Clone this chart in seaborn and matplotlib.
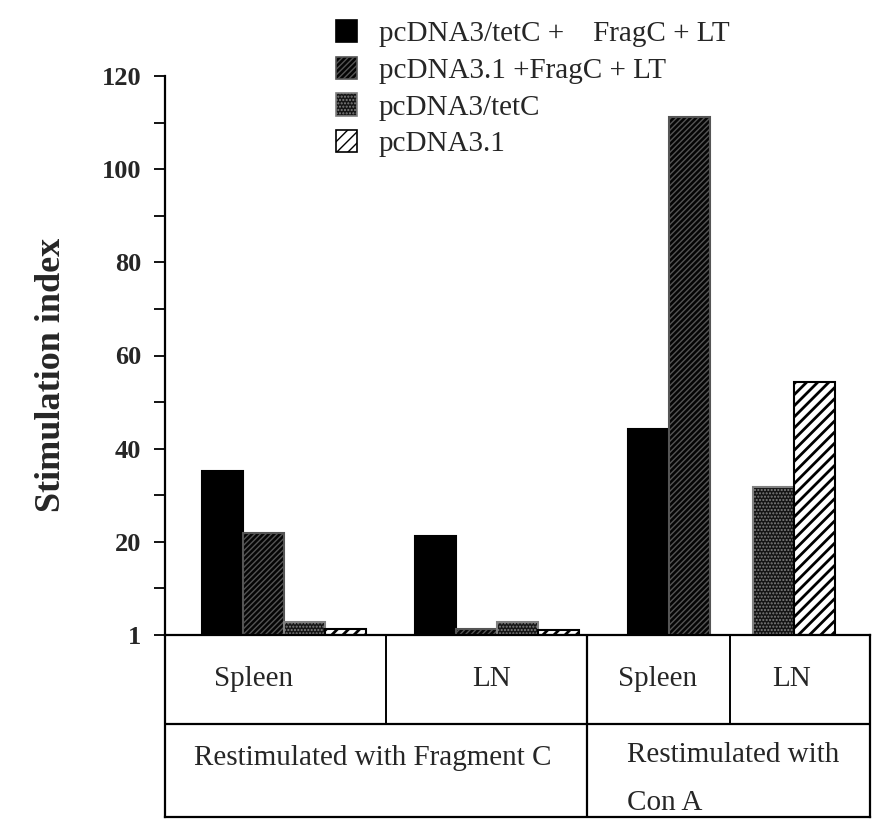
import numpy as np
import pandas as pd
import seaborn as sns
import matplotlib.pyplot as plt
from matplotlib.patches import Patch

# 数据：四个处理组 + 表格中每一格的柱高
series = ["pcDNA3/tetC +    FragC + LT", "pcDNA3.1 +FragC + LT", "pcDNA3/tetC", "pcDNA3.1"]
tissue = ["Spleen", "LN", "Spleen", "LN"]
restim = ["Restimulated with Fragment C", "Restimulated with", "Con A"]

spleen_fragc = [35.2, 21.9, 2.8, 1.3]
ln_fragc = [21.2, 1.3, 2.8, 1.1]
spleen_cona = [44.2, 111.3]     # 只画了前两组
ln_cona = [31.7, 54.4]          # 只画了后两组

ytick_vals = [0, 20, 40, 60, 80, 100, 120]
ytick_labels = ["1", "20", "40", "60", "80", "100", "120"]

panels = [(series, spleen_fragc), (series, ln_fragc), (series[:2], spleen_cona), (series[2:], ln_cona)]
rows = []
for i, (names, vals) in enumerate(panels):
    for n, v in zip(names, vals):
        rows.append({'col': i, 'series': n, 'value': v})
df = pd.DataFrame(rows)

# 样式
face = {series[0]: 'black', series[1]: '#050505', series[2]: '#151515', series[3]: 'white'}
edge = {series[0]: 'black', series[1]: '#555555', series[2]: '#808080', series[3]: 'black'}
hatch = {series[0]: '', series[1]: '//////', series[2]: '.....', series[3]: '///'}
hatch_lw = {series[0]: 1.0, series[1]: 1.0, series[2]: 1.0, series[3]: 2.0}

# 版面（像素）
W, H = 874, 825
col_px = [221, 201, 143, 140]
row_px = [89, 93]
bar_px = 41
bar_off = [37, 29, 41, 23]

sns.set_style('white')
plt.rcParams['font.family'] = ['Liberation Serif', 'DejaVu Serif']
plt.rcParams['hatch.linewidth'] = 1.0

fig = plt.figure(figsize=(W / 100, H / 100), dpi=100)
gs = fig.add_gridspec(1, 4, width_ratios=col_px, wspace=0,
                      left=165 / W, right=870 / W, bottom=1 - 635 / H, top=1 - 76 / H)
axes = [fig.add_subplot(gs[0, i]) for i in range(4)]


def style_bar(bar, s):
    bar.set_facecolor(face[s])
    bar.set_edgecolor(edge[s])
    bar.set_hatch(hatch[s])
    bar.set_linewidth(1.5)
    if hasattr(bar, 'set_hatch_linewidth'):
        bar.set_hatch_linewidth(hatch_lw[s])


for i, ax in enumerate(axes):
    sub = df[df['col'] == i]
    order = list(sub['series'])
    sns.barplot(data=sub, x='series', y='value', hue='series', order=order, hue_order=order,
                palette=[face[s] for s in order], width=1.0, errorbar=None, legend=False,
                saturation=1, ax=ax)
    bars = sorted(ax.patches, key=lambda p: p.get_x())
    for bar, s in zip(bars, order):
        style_bar(bar, s)
    left = -0.5 - bar_off[i] / bar_px
    ax.set_xlim(left, left + col_px[i] / bar_px)
    ax.set_ylim(0, 120)
    ax.set_xlabel('')
    ax.set_ylabel('')
    ax.set_xticks([])
    ax.patch.set_alpha(0)
    for k in ['top', 'right', 'bottom']:
        ax.spines[k].set_visible(False)
    if i > 0:
        ax.spines['left'].set_visible(False)
        ax.set_yticks([])

ax0 = axes[0]
ax0.spines['left'].set_color('black')
ax0.spines['left'].set_linewidth(1.6)
ax0.set_yticks(ytick_vals)
ax0.set_yticklabels(ytick_labels, fontsize=19, fontweight='bold')
ax0.set_yticks(np.arange(10, 120, 20), minor=True)
ax0.tick_params(axis='y', which='both', left=True, direction='out', length=8, width=1.3,
                color='black', pad=9)
ax0.set_ylabel('Stimulation index', fontsize=26, fontweight='bold')
ax0.yaxis.set_label_coords((68 - 165) / col_px[0], (635 - 375) / 559)

# 下方表格
tab = fig.add_axes([165 / W, 1 - 817 / H, 705 / W, (817 - 635) / H])
xe = np.concatenate([[0], np.cumsum(col_px)])
tab.set_xlim(0, xe[-1])
tab.set_ylim(0, sum(row_px))
tab.patch.set_alpha(0)
tab.set_xticks([])
tab.set_yticks([])
for sp in tab.spines.values():
    sp.set_visible(True)
    sp.set_color('black')
    sp.set_linewidth(1.6)
tab.axhline(row_px[1], color='black', lw=1.6)
tab.vlines([xe[1], xe[3]], row_px[1], sum(row_px), color='black', lw=1.4)
tab.vlines([xe[2]], 0, sum(row_px), color='black', lw=1.6)

tissue_x = [89, 327, 493, 627]
for x, t in zip(tissue_x, tissue):
    tab.text(x, 131, t, ha='center', va='baseline', fontsize=21)
tab.text(208, 52, restim[0], ha='center', va='baseline', fontsize=21)
tab.text(462, 55, restim[1], ha='left', va='baseline', fontsize=21)
tab.text(462, 7, restim[2], ha='left', va='baseline', fontsize=21)

handles = [Patch(facecolor=face[s], edgecolor=edge[s], hatch=hatch[s], lw=1.2) for s in series]
fig.legend(handles, series, loc='upper left', bbox_to_anchor=(336 / W, 1 - 20 / H),
           frameon=False, fontsize=21, handlelength=0.72, handleheight=0.8,
           handletextpad=0.75, labelspacing=0.32, borderpad=0, borderaxespad=0)

fig.savefig('out.png', dpi=100)
